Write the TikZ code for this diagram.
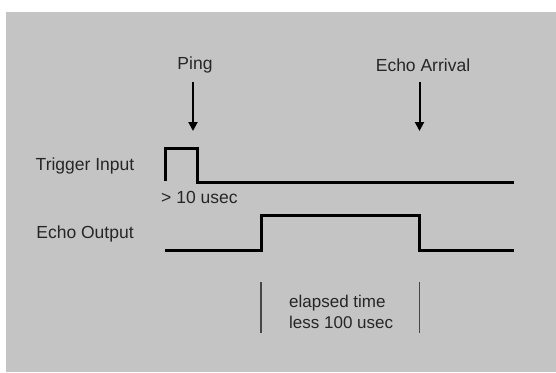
\documentclass[tikz,border=0pt]{standalone}
\usepackage{fontspec}
\setmainfont{Liberation Sans}
\usetikzlibrary{arrows.meta}
\definecolor{bg}{RGB}{196,196,196}
\definecolor{mark}{RGB}{70,70,70}
\begin{document}
\begin{tikzpicture}[x=1pt,y=-1pt,
  lbl/.style={inner sep=0pt, font=\fontsize{17.5}{21}\selectfont, text=black!85},
  sig/.style={line width=3pt, line join=miter},
  ptr/.style={line width=2pt, -{Triangle[length=9pt,width=9pt]}},
  tick/.style={line width=1.2pt, draw=mark}]
\useasboundingbox (0,0) rectangle (556,372);
\fill[white] (0,0) rectangle (556,372);
\fill[bg] (6,12) rectangle (556,372);
% labels
\node[lbl] (ping) at (195,65) {Ping};
\node[lbl] (arrival) at (423,65) {Echo Arrival};
\node[lbl] (trig) at (85,166) {Trigger Input};
\node[lbl] (echo) at (85,234) {Echo Output};
\node[lbl, anchor=west] (ten) at (161,197) {> 10 usec};
\node[lbl, align=left, anchor=west, font=\fontsize{17}{21.5}\selectfont] (elapsed) at (289,312) {elapsed time\\less 100 usec};
% arrows
\coordinate (p0) at (193,82); \coordinate (p1) at (193,131);
\coordinate (a0) at (419.5,82); \coordinate (a1) at (419.5,131);
\draw[ptr] (p0) -- (p1);
\draw[ptr] (a0) -- (a1);
% trigger signal
\coordinate (t0) at (165.5,181);
\coordinate (t1) at (165.5,148);
\coordinate (t2) at (197,148);
\coordinate (t3) at (197,182);
\coordinate (t4) at (514,182);
\draw[sig] (t0) -- (t1) -- (t2) -- (t3) -- (t4);
% echo signal
\coordinate (e0) at (165,250);
\coordinate (e1) at (261,250);
\coordinate (e2) at (261,215);
\coordinate (e3) at (419.5,215);
\coordinate (e4) at (419.5,250);
\coordinate (e5) at (514,250);
\draw[sig] (e0) -- (e1) -- (e2) -- (e3) -- (e4) -- (e5);
% elapsed markers
\coordinate (m0) at (261,282); \coordinate (m1) at (261,333);
\coordinate (n0) at (419.5,282); \coordinate (n1) at (419.5,333);
\draw[tick] (m0) -- (m1);
\draw[tick] (n0) -- (n1);
\end{tikzpicture}
\end{document}
